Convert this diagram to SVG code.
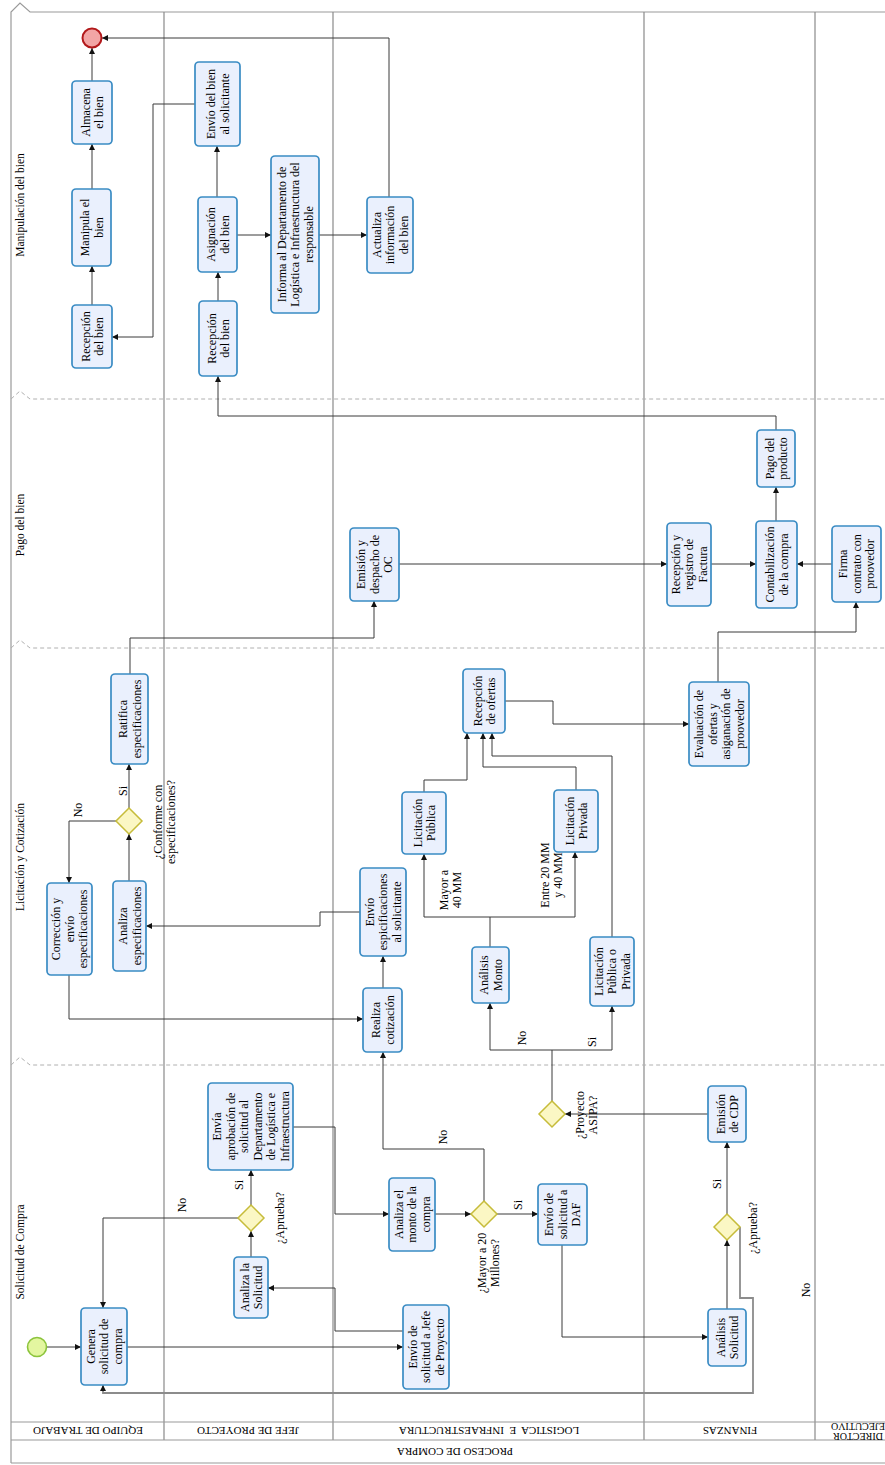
<svg xmlns="http://www.w3.org/2000/svg" width="885" height="1465" viewBox="0 0 885 1465">
<style>
.pool{fill:none;stroke:#9a9a9a;stroke-width:1.2}
.lane{fill:none;stroke:#8a8a8a;stroke-width:1.2}
.phase{fill:none;stroke:#b0b0b0;stroke-width:1;stroke-dasharray:4 3}
.task{fill:#eaf0fd;stroke:#3a8cc4;stroke-width:1.7}
.gw{fill:#fbf7c4;stroke:#c6bc3a;stroke-width:1.5}
.c{fill:none;stroke:#3a3a3a;stroke-width:1;marker-end:url(#arr)}
.cg{fill:none;stroke:#8c8c8c;stroke-width:1.8;marker-end:url(#arr)}
.t{font-family:"Liberation Serif","DejaVu Serif",serif;font-size:12px;fill:#000;text-anchor:middle}
.ph{font-family:"Liberation Serif","DejaVu Serif",serif;font-size:11.5px;fill:#000;text-anchor:middle}
.ln{font-family:"Liberation Serif","DejaVu Serif",serif;font-size:11px;fill:#000;text-anchor:middle}
</style>
<defs>
<marker id="arr" viewBox="0 0 10 10" refX="10" refY="5" markerWidth="6" markerHeight="6" orient="auto" markerUnits="userSpaceOnUse">
<path d="M0,0 L10,5 L0,10 z" fill="#111"/>
</marker>
</defs>
<rect x="0" y="0" width="885" height="1465" fill="#ffffff"/>

<g id="pool">
<path class="pool" d="M11,1463 V12 L20,3 L30,12 H885"/>
<path class="lane" d="M164,12 V1440 M333,12 V1440 M644,12 V1440"/>
<path class="lane" d="M815,12 V1440" stroke-width="1.6"/>
<path class="pool" d="M11,1422 H885 M11,1440 H885 M11,1463 H885"/>
<path class="phase" d="M11,399 L20,391 L30,399 H885"/>
<path class="phase" d="M11,648 L20,640 L30,648 H885"/>
<path class="phase" d="M11,1065 L20,1057 L30,1065 H885"/>
<text class="ph" transform="translate(24,205) rotate(-90)">Manipulación del bien</text>
<text class="ph" transform="translate(24,525) rotate(-90)">Pago del bien</text>
<text class="ph" transform="translate(24,857) rotate(-90)">Licitación y Cotización</text>
<text class="ph" transform="translate(24,1252) rotate(-90)">Solicitud de Compra</text>
<text class="ln" transform="translate(88,1431) rotate(180)" y="3.8">EQUIPO DE TRABAJO</text>
<text class="ln" transform="translate(248,1431) rotate(180)" y="3.8">JEFE DE PROYECTO</text>
<text class="ln" transform="translate(489,1431) rotate(180)" y="3.8" xml:space="preserve">LOGISTICA  E  INFRAESTRUCTURA</text>
<text class="ln" transform="translate(730,1431) rotate(180)" y="3.8">FINANZAS</text>
<text class="ln" transform="translate(858,1431) rotate(180)" style="font-size:10px"><tspan x="0" y="-1.5">DIRECTOR</tspan><tspan x="0" y="8">EJECUTIVO</tspan></text>
<text class="ln" transform="translate(455,1452) rotate(180)" y="3.8">PROCESO DE COMPRA</text>
</g>

<g id="connectors">
<path class="c" d="M92,305 V266"/>
<path class="c" d="M92,189 V144"/>
<path class="c" d="M92,81 V48"/>
<path class="c" d="M389,197 V38 H102"/>
<path class="c" d="M195,104 H153 V337 H112"/>
<path class="c" d="M217,197 V146"/>
<path class="c" d="M218,301 V272"/>
<path class="c" d="M237,235 H271"/>
<path class="c" d="M319,235 H367"/>
<path class="c" d="M776,430 V416 H218 V376"/>
<path class="c" d="M776,521 V487"/>
<path class="c" d="M399,564 H667"/>
<path class="c" d="M711,564 H756"/>
<path class="c" d="M832,564 H797"/>
<path class="c" d="M130,674 V638 H374 V601"/>
<path class="c" d="M718,682 V632 H856 V602"/>
<path class="c" d="M505,701 H553 V724 H689"/>
<path class="c" d="M424,792 V780 H467 V733"/>
<path class="c" d="M576,790 V767 H483 V733"/>
<path class="c" d="M612,937 V756 H492 V733"/>
<path class="c" d="M490,947 V917 H424 V854"/>
<path class="c" d="M490,917 H575 V852"/>
<path class="c" d="M552,1101 V1050 H490 V1003"/>
<path class="c" d="M552,1050 H612 V1006"/>
<path class="c" d="M708,1114 H565"/>
<path class="c" d="M129,881 V834"/>
<path class="c" d="M129,808 V764"/>
<path class="c" d="M116,821 H69 V883"/>
<path class="c" d="M69,975 V1019 H363"/>
<path class="c" d="M383,988 V956"/>
<path class="c" d="M360,912 H320 V926 H146"/>
<path class="c" d="M484,1201 V1149 H383 V1052"/>
<path class="c" d="M497,1214 H538"/>
<path class="c" d="M435,1214 H471"/>
<path class="c" d="M562,1245 V1337 H708"/>
<path class="cg" d="M727,1309 V1240"/>
<path class="c" d="M727,1214 V1142"/>
<path class="cg" d="M740,1227 V1298 H753 V1393 H103 V1385"/>
<path class="c" d="M46,1347 H81"/>
<path class="c" d="M127,1347 H403"/>
<path class="c" d="M403,1331 H335 V1288 H268"/>
<path class="c" d="M251,1257 V1231"/>
<path class="c" d="M238,1218 H103 V1308"/>
<path class="c" d="M251,1205 V1170"/>
<path class="c" d="M293,1127 H335 V1214 H389"/>
</g>

<g id="labels">
<text class="t" transform="translate(123,791) rotate(-90)" y="4">Si</text>
<text class="t" transform="translate(78,810) rotate(-90)" y="4">No</text>
<text class="t" transform="translate(164,822) rotate(-90)"><tspan x="0" y="-2.5">¿Conforme con</tspan><tspan x="0" y="10.5">especificaciones?</tspan></text>
<text class="t" transform="translate(450,890) rotate(-90)"><tspan x="0" y="-2.5">Mayor a</tspan><tspan x="0" y="10.5">40 MM</tspan></text>
<text class="t" transform="translate(551,875) rotate(-90)"><tspan x="0" y="-2.5">Entre 20 MM</tspan><tspan x="0" y="10.5">y 40 MM</tspan></text>
<text class="t" transform="translate(522,1038) rotate(-90)" y="4">No</text>
<text class="t" transform="translate(592,1042) rotate(-90)" y="4">Si</text>
<text class="t" transform="translate(586,1115) rotate(-90)"><tspan x="0" y="-2.5">¿Proyecto</tspan><tspan x="0" y="10.5">ASIPA?</tspan></text>
<text class="t" transform="translate(443,1137) rotate(-90)" y="4">No</text>
<text class="t" transform="translate(518,1205) rotate(-90)" y="4">Si</text>
<text class="t" transform="translate(488,1263) rotate(-90)"><tspan x="0" y="-2.5">¿Mayor a 20</tspan><tspan x="0" y="10.5">Millones?</tspan></text>
<text class="t" transform="translate(717,1184) rotate(-90)" y="4">Si</text>
<text class="t" transform="translate(753,1228) rotate(-90)" y="4">¿Aprueba?</text>
<text class="t" transform="translate(806,1290) rotate(-90)" y="4">No</text>
<text class="t" transform="translate(239,1185) rotate(-90)" y="4">Si</text>
<text class="t" transform="translate(182,1205) rotate(-90)" y="4">No</text>
<text class="t" transform="translate(280,1218) rotate(-90)" y="4">¿Aprueba?</text>
</g>

<g id="end"><circle cx="92" cy="38" r="9.5" fill="#f2a5a5" stroke="#b2191b" stroke-width="2"/></g>
<g id="start"><circle cx="37" cy="1347" r="9.5" fill="#e3f6a0" stroke="#8cc43c" stroke-width="1.6"/></g>

<g id="almacena"><rect class="task" x="72" y="81" width="40" height="63" rx="4"/><text class="t" transform="translate(92,112.5) rotate(-90)"><tspan x="0" y="-2.5">Almacena</tspan><tspan x="0" y="11">el bien</tspan></text></g>
<g id="manipula"><rect class="task" x="72" y="189" width="39" height="77" rx="4"/><text class="t" transform="translate(91.5,227.5) rotate(-90)"><tspan x="0" y="-2.5">Manipula el</tspan><tspan x="0" y="11">bien</tspan></text></g>
<g id="recepcion1"><rect class="task" x="72" y="305" width="40" height="63" rx="4"/><text class="t" transform="translate(92,336.5) rotate(-90)"><tspan x="0" y="-2.5">Recepción</tspan><tspan x="0" y="11">del bien</tspan></text></g>
<g id="envio-bien"><rect class="task" x="195" y="62" width="45" height="84" rx="4"/><text class="t" transform="translate(217.5,104) rotate(-90)"><tspan x="0" y="-2.5">Envío del bien</tspan><tspan x="0" y="11">al solicitante</tspan></text></g>
<g id="asignacion"><rect class="task" x="198" y="197" width="39" height="75" rx="4"/><text class="t" transform="translate(217.5,234.5) rotate(-90)"><tspan x="0" y="-2.5">Asignación</tspan><tspan x="0" y="11">del bien</tspan></text></g>
<g id="recepcion2"><rect class="task" x="199" y="301" width="38" height="75" rx="4"/><text class="t" transform="translate(218,338.5) rotate(-90)"><tspan x="0" y="-2.5">Recepción</tspan><tspan x="0" y="11">del bien</tspan></text></g>
<g id="informa"><rect class="task" x="271" y="156" width="48" height="157" rx="4"/><text class="t" transform="translate(295,234.5) rotate(-90)"><tspan x="0" y="-9.5">Informa al Departamento de</tspan><tspan x="0" y="4">Logística e Infraestructura del</tspan><tspan x="0" y="17.5">responsable</tspan></text></g>
<g id="actualiza"><rect class="task" x="367" y="197" width="46" height="76" rx="4"/><text class="t" transform="translate(390,235) rotate(-90)"><tspan x="0" y="-9.5">Actualiza</tspan><tspan x="0" y="4">información</tspan><tspan x="0" y="17.5">del bien</tspan></text></g>

<g id="pago-producto"><rect class="task" x="757" y="430" width="38" height="57" rx="4"/><text class="t" transform="translate(776,458.5) rotate(-90)"><tspan x="0" y="-2.5">Pago del</tspan><tspan x="0" y="11">producto</tspan></text></g>
<g id="contabilizacion"><rect class="task" x="756" y="521" width="41" height="87" rx="4"/><text class="t" transform="translate(776.5,564.5) rotate(-90)"><tspan x="0" y="-2.5">Contabilización</tspan><tspan x="0" y="11">de la compra</tspan></text></g>
<g id="recepcion-factura"><rect class="task" x="667" y="523" width="44" height="83" rx="4"/><text class="t" transform="translate(689,564.5) rotate(-90)"><tspan x="0" y="-9.5">Recepción y</tspan><tspan x="0" y="4">registro de</tspan><tspan x="0" y="17.5">Factura</tspan></text></g>
<g id="firma"><rect class="task" x="832" y="526" width="49" height="76" rx="4"/><text class="t" transform="translate(856.5,564) rotate(-90)"><tspan x="0" y="-9.5">Firma</tspan><tspan x="0" y="4">contrato con</tspan><tspan x="0" y="17.5">proovedor</tspan></text></g>
<g id="emision-oc"><rect class="task" x="350" y="528" width="49" height="73" rx="4"/><text class="t" transform="translate(374.5,564.5) rotate(-90)"><tspan x="0" y="-9.5">Emisión y</tspan><tspan x="0" y="4">despacho de</tspan><tspan x="0" y="17.5">OC</tspan></text></g>

<g id="ratifica"><rect class="task" x="111" y="674" width="37" height="90" rx="4"/><text class="t" transform="translate(129.5,719) rotate(-90)"><tspan x="0" y="-2.5">Ratifica</tspan><tspan x="0" y="11">especificaciones</tspan></text></g>
<g id="gw-conforme"><path class="gw" d="M129,808 L142,821 L129,834 L116,821 z"/></g>
<g id="analiza-esp"><rect class="task" x="113" y="881" width="33" height="90" rx="4"/><text class="t" transform="translate(129.5,926) rotate(-90)"><tspan x="0" y="-2.5">Analiza</tspan><tspan x="0" y="11">especificaciones</tspan></text></g>
<g id="correccion"><rect class="task" x="47" y="883" width="45" height="92" rx="4"/><text class="t" transform="translate(69.5,929) rotate(-90)"><tspan x="0" y="-9.5">Corrección y</tspan><tspan x="0" y="4">envío</tspan><tspan x="0" y="17.5">especificaciones</tspan></text></g>
<g id="realiza"><rect class="task" x="363" y="988" width="39" height="64" rx="4"/><text class="t" transform="translate(382.5,1020) rotate(-90)"><tspan x="0" y="-2.5">Realiza</tspan><tspan x="0" y="11">cotización</tspan></text></g>
<g id="envio-esp"><rect class="task" x="360" y="868" width="46" height="88" rx="4"/><text class="t" transform="translate(383,912) rotate(-90)"><tspan x="0" y="-9.5">Envío</tspan><tspan x="0" y="4">espicificaciones</tspan><tspan x="0" y="17.5">al solicitante</tspan></text></g>
<g id="lic-publica"><rect class="task" x="402" y="792" width="44" height="62" rx="4"/><text class="t" transform="translate(424,823) rotate(-90)"><tspan x="0" y="-2.5">Licitación</tspan><tspan x="0" y="11">Pública</tspan></text></g>
<g id="recepcion-ofertas"><rect class="task" x="463" y="669" width="42" height="64" rx="4"/><text class="t" transform="translate(484,701) rotate(-90)"><tspan x="0" y="-2.5">Recepción</tspan><tspan x="0" y="11">de ofertas</tspan></text></g>
<g id="evaluacion"><rect class="task" x="689" y="682" width="60" height="84" rx="4"/><text class="t" transform="translate(719,724) rotate(-90)"><tspan x="0" y="-16">Evaluación de</tspan><tspan x="0" y="-2.5">ofertas y</tspan><tspan x="0" y="11">asiganación de</tspan><tspan x="0" y="24.5">proovedor</tspan></text></g>
<g id="lic-privada"><rect class="task" x="554" y="790" width="44" height="62" rx="4"/><text class="t" transform="translate(576,821) rotate(-90)"><tspan x="0" y="-2.5">Licitación</tspan><tspan x="0" y="11">Privada</tspan></text></g>
<g id="lic-pub-priv"><rect class="task" x="590" y="937" width="44" height="69" rx="4"/><text class="t" transform="translate(612,971.5) rotate(-90)"><tspan x="0" y="-9.5">Licitación</tspan><tspan x="0" y="4">Pública o</tspan><tspan x="0" y="17.5">Privada</tspan></text></g>
<g id="analisis-monto"><rect class="task" x="472" y="947" width="37" height="56" rx="4"/><text class="t" transform="translate(490.5,975) rotate(-90)"><tspan x="0" y="-2.5">Análisis</tspan><tspan x="0" y="11">Monto</tspan></text></g>

<g id="gw-asipa"><path class="gw" d="M552,1101 L565,1114 L552,1127 L539,1114 z"/></g>
<g id="emision-cdp"><rect class="task" x="708" y="1086" width="38" height="56" rx="4"/><text class="t" transform="translate(727,1114) rotate(-90)"><tspan x="0" y="-2.5">Emisión</tspan><tspan x="0" y="11">de CDP</tspan></text></g>
<g id="gw-mayor"><path class="gw" d="M484,1201 L497,1214 L484,1227 L471,1214 z"/></g>
<g id="envio-daf"><rect class="task" x="538" y="1184" width="49" height="61" rx="4"/><text class="t" transform="translate(562.5,1214.5) rotate(-90)"><tspan x="0" y="-9.5">Envío de</tspan><tspan x="0" y="4">solicitud a</tspan><tspan x="0" y="17.5">DAF</tspan></text></g>
<g id="analisis-solicitud"><rect class="task" x="708" y="1309" width="38" height="57" rx="4"/><text class="t" transform="translate(727,1337.5) rotate(-90)"><tspan x="0" y="-2.5">Análisis</tspan><tspan x="0" y="11">Solicitud</tspan></text></g>
<g id="gw-aprueba-fin"><path class="gw" d="M727,1214 L740,1227 L727,1240 L714,1227 z"/></g>
<g id="genera"><rect class="task" x="81" y="1308" width="46" height="77" rx="4"/><text class="t" transform="translate(104,1346.5) rotate(-90)"><tspan x="0" y="-9.5">Genera</tspan><tspan x="0" y="4">solicitud de</tspan><tspan x="0" y="17.5">compra</tspan></text></g>
<g id="envio-jefe"><rect class="task" x="403" y="1305" width="46" height="84" rx="4"/><text class="t" transform="translate(426,1347) rotate(-90)"><tspan x="0" y="-9.5">Envío de</tspan><tspan x="0" y="4">solicitud a Jefe</tspan><tspan x="0" y="17.5">de Proyecto</tspan></text></g>
<g id="analiza-solicitud"><rect class="task" x="234" y="1257" width="34" height="61" rx="4"/><text class="t" transform="translate(251,1287.5) rotate(-90)"><tspan x="0" y="-2.5">Analiza la</tspan><tspan x="0" y="11">Solicitud</tspan></text></g>
<g id="gw-aprueba-jefe"><path class="gw" d="M251,1205 L264,1218 L251,1231 L238,1218 z"/></g>
<g id="envia-aprobacion"><rect class="task" x="208" y="1083" width="85" height="87" rx="4"/><text class="t" transform="translate(250.5,1126.5) rotate(-90)"><tspan x="0" y="-29.5">Envía</tspan><tspan x="0" y="-16">aprobación de</tspan><tspan x="0" y="-2.5">solicitud al</tspan><tspan x="0" y="11">Departamento</tspan><tspan x="0" y="24.5">de Logística e</tspan><tspan x="0" y="38">Infraestructura</tspan></text></g>
<g id="analiza-monto"><rect class="task" x="389" y="1178" width="46" height="73" rx="4"/><text class="t" transform="translate(412,1214.5) rotate(-90)"><tspan x="0" y="-9.5">Analiza el</tspan><tspan x="0" y="4">monto de la</tspan><tspan x="0" y="17.5">compra</tspan></text></g>
</svg>
